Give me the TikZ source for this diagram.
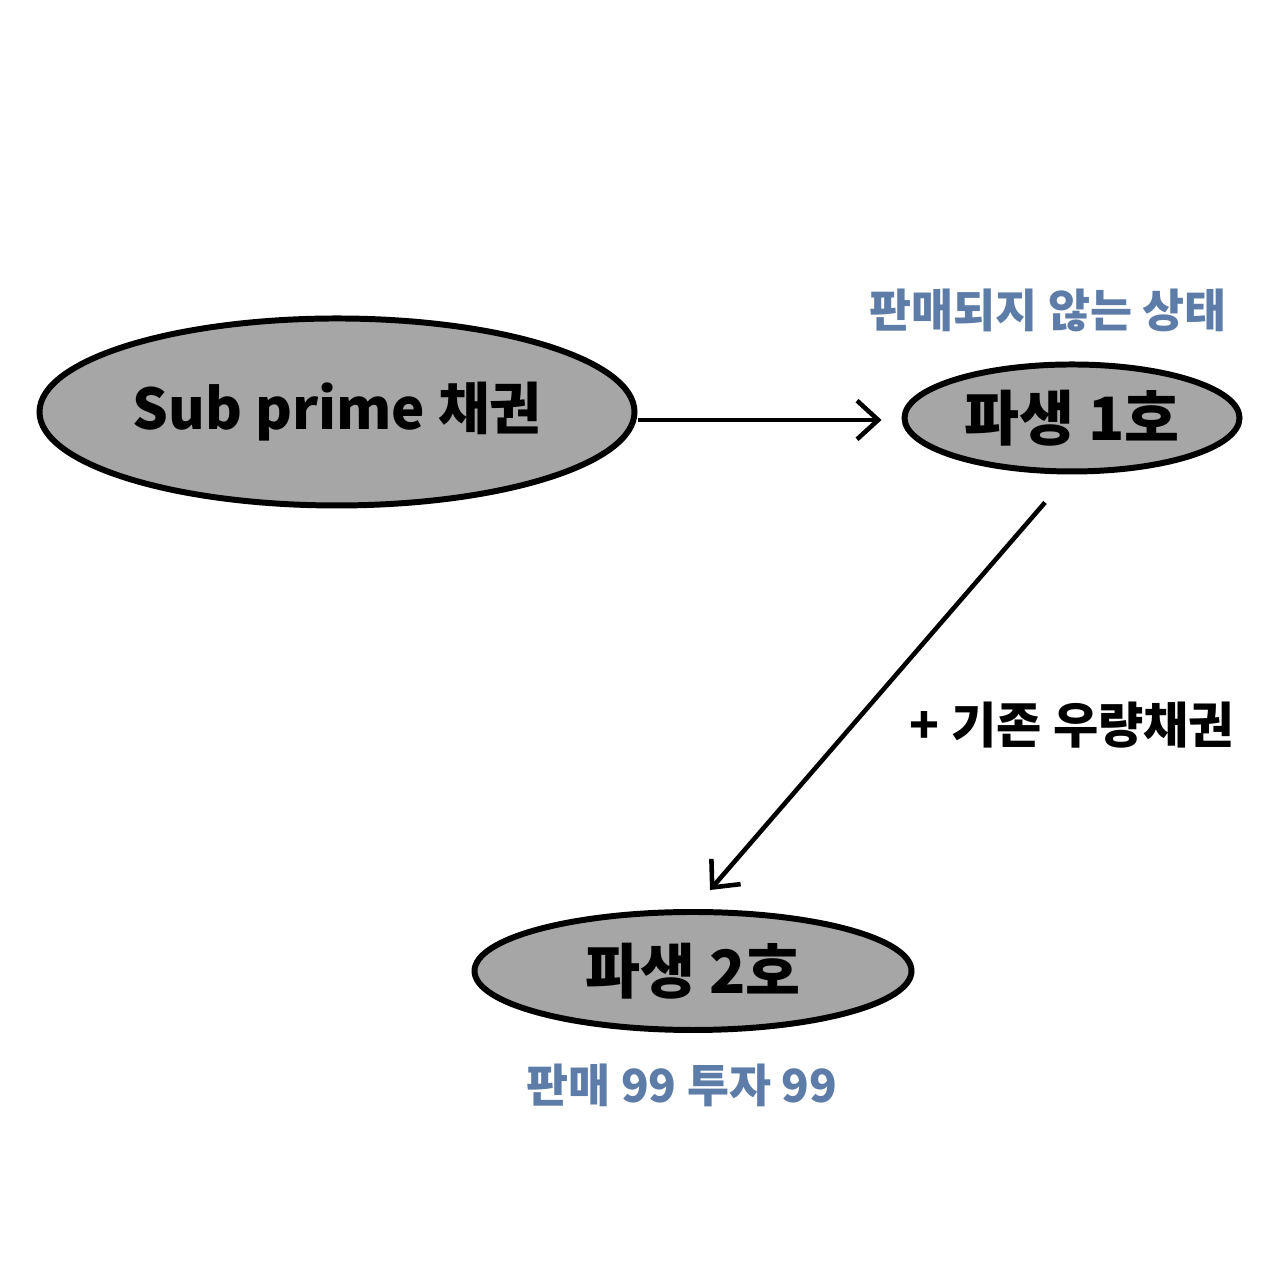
\documentclass[tikz,border=0pt]{standalone}
\usepackage{fontspec}
\newfontfamily\kr{Noto Sans CJK KR}
\usetikzlibrary{shapes.geometric,arrows.meta}
\definecolor{bondgray}{RGB}{166,166,166}
\definecolor{noteblue}{RGB}{93,125,168}
\begin{document}
\begin{tikzpicture}[
    bubble/.style={
        ellipse,
        draw=black,
        line width=1.7pt,
        fill=bondgray,
        inner sep=0pt,
        font=\kr\bfseries
    },
    arr/.style={-{Straight Barb[length=6pt,width=11pt,line width=1.3pt]}, line width=1.3pt, draw=black},
    note/.style={font=\kr\bfseries, text=noteblue}
]
    \useasboundingbox (0,0) rectangle (12.8,12.8);

    \node[bubble, minimum width=5.95cm, minimum height=1.87cm, font=\kr\bfseries\fontsize{16}{19}\selectfont] (sub) at (3.37,8.68)
        {Sub prime 채권};

    \node[bubble, minimum width=3.35cm, minimum height=1.07cm, font=\kr\bfseries\fontsize{17}{20}\selectfont] (d1) at (10.72,8.62)
        {파생 1호};

    \node[bubble, minimum width=4.37cm, minimum height=1.18cm, font=\kr\bfseries\fontsize{17}{20}\selectfont] (d2) at (6.93,3.09)
        {파생 2호};

    \node[note, font=\kr\bfseries\fontsize{13}{16}\selectfont] (unsold) at (10.48,9.70)
        {판매되지 않는 상태};

    \node[font=\kr\bfseries\fontsize{14}{17}\selectfont] (plus) at (10.72,5.55)
        {+ 기존 우량채권};

    \node[note, font=\kr\bfseries\fontsize{13}{16}\selectfont] (gogo) at (6.82,1.95)
        {판매 99 투자 99};

    \draw[arr, shorten >=0.2cm] (sub.east |- 0,8.60) -- (d1.west |- 0,8.60);
    \draw[arr] ([xshift=-0.27cm, yshift=-0.28cm]d1.south) -- ([xshift=0.17cm, yshift=0.19cm]d2.north);
\end{tikzpicture}
\end{document}
